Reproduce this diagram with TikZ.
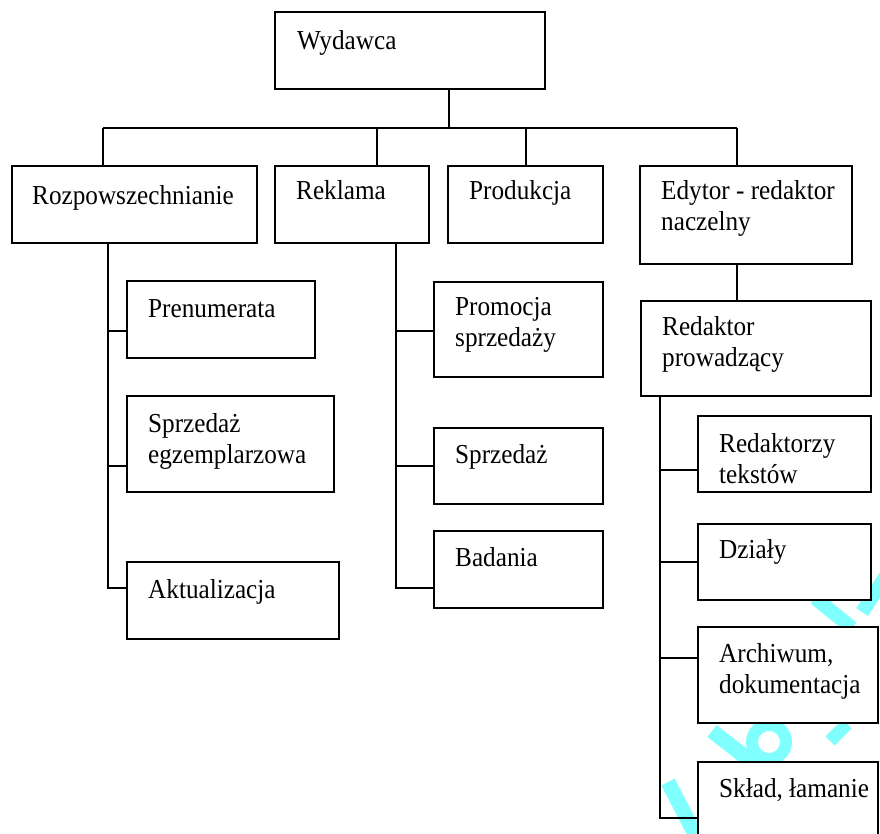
\documentclass[tikz,border=0pt]{standalone}
\usepackage{fontspec}
\setmainfont{Liberation Serif}[FakeStretch=0.92]
\definecolor{wm}{RGB}{128,255,255}
\tikzset{
  bx/.style={draw=black, line width=1.2pt, fill=white, anchor=north west, inner sep=0pt, outer sep=0pt},
  txt/.style={anchor=base west, inner sep=0pt, font=\fontsize{27.4}{31}\selectfont},
  conn/.style={draw=black, line width=1.2pt},
  wmark/.style={draw=wm, line width=14pt, line cap=butt}
}
\newcommand\orgbox[5]{\node[bx, minimum width={(#4-#2)*1pt}, minimum height={(#5-#3)*1pt}] (#1) at (#2,#3) {};}
\newcommand\twolines[2]{\vtop{\hbox{#1}\hbox{#2}}}
\begin{document}
\begin{tikzpicture}[x=1pt,y=-1pt]
\useasboundingbox (0,0) rectangle (880,834);
\clip (0,0) rectangle (880,834);
\fill[white] (0,0) rectangle (880,834);
% watermark
\draw[wmark] (862,612) -- (886,576);
\draw[wmark] (815,598) -- (852,628);
\draw[wmark, line width=15pt] (712,731) -- (757,766);
\draw[draw=wm, line width=12pt] (769,742) circle (17);
\draw[wmark, line width=13pt] (830,741) -- (847,724);
\draw[wmark, line width=15pt] (668,782) -- (695,834);
% boxes
\orgbox{wyd}{275}{12}{545}{89}
\orgbox{roz}{12}{166}{257}{243}
\orgbox{rek}{275}{166}{429}{243}
\orgbox{prod}{448}{166}{603}{243}
\orgbox{edy}{640}{166}{852}{264}
\orgbox{pre}{127}{281}{315}{358}
\orgbox{spre}{127}{396}{334}{492}
\orgbox{akt}{127}{562}{339}{639}
\orgbox{prom}{434}{282}{603}{377}
\orgbox{sprz}{434}{428}{603}{504}
\orgbox{bad}{434}{531}{603}{608}
\orgbox{red}{641}{301}{871}{396}
\orgbox{redz}{698}{416}{871}{492}
\orgbox{dz}{698}{524}{871}{600}
\orgbox{arch}{698}{627}{878}{723}
\orgbox{skl}{698}{762}{878}{852}
% texts
\node[txt] (wyd-t) at (297,50) {Wydawca};
\node[txt] (roz-t) at (32,205) {Rozpowszechnianie};
\node[txt] (rek-t) at (296,200) {Reklama};
\node[txt] (prod-t) at (469,200) {Produkcja};
\node[txt] (edy-t) at (661,200) {\twolines{Edytor - redaktor}{naczelny}};
\node[txt] (pre-t) at (148,317) {Prenumerata};
\node[txt] (spre-t) at (148,432) {\twolines{Sprzedaż}{egzemplarzowa}};
\node[txt] (akt-t) at (148,598) {Aktualizacja};
\node[txt] (prom-t) at (455,315) {\twolines{Promocja}{sprzedaży}};
\node[txt] (sprz-t) at (455,463) {Sprzedaż};
\node[txt] (bad-t) at (455,566) {Badania};
\node[txt] (red-t) at (662,335) {\twolines{Redaktor}{prowadzący}};
\node[txt] (redz-t) at (719,452) {\twolines{Redaktorzy}{tekstów}};
\node[txt] (dz-t) at (719,558) {Działy};
\node[txt] (arch-t) at (719,662) {\twolines{Archiwum,}{dokumentacja}};
\node[txt] (skl-t) at (719,797) {Skład, łamanie};
% top-level bus
\coordinate (j0) at (449,128);
\coordinate (b1) at (103,128);
\coordinate (b2) at (377,128);
\coordinate (b3) at (526,128);
\coordinate (b4) at (737,128);
\draw[conn] (wyd.south -| j0) -- (j0);
\draw[conn] (b1) -- (b4);
\draw[conn] (b1) -- (b1 |- roz.north);
\draw[conn] (b2) -- (b2 |- rek.north);
\draw[conn] (b3) -- (b3 |- prod.north);
\draw[conn] (b4) -- (b4 |- edy.north);
\draw[conn] (edy.south -| b4) -- (b4 |- red.north);
% left trunk
\coordinate (l1) at (108,331);
\coordinate (l2) at (108,466);
\coordinate (l3) at (108,588);
\draw[conn] (roz.south -| l3) -- (l3) -- (l3 -| akt.west);
\draw[conn] (l1) -- (l1 -| pre.west);
\draw[conn] (l2) -- (l2 -| spre.west);
% middle trunk
\coordinate (m1) at (396,331);
\coordinate (m2) at (396,466);
\coordinate (m3) at (396,588);
\draw[conn] (rek.south -| m3) -- (m3) -- (m3 -| bad.west);
\draw[conn] (m1) -- (m1 -| prom.west);
\draw[conn] (m2) -- (m2 -| sprz.west);
% right trunk
\coordinate (r1) at (660,470);
\coordinate (r2) at (660,562);
\coordinate (r3) at (660,658);
\coordinate (r4) at (660,818);
\draw[conn] (red.south -| r4) -- (r4) -- (r4 -| skl.west);
\draw[conn] (r1) -- (r1 -| redz.west);
\draw[conn] (r2) -- (r2 -| dz.west);
\draw[conn] (r3) -- (r3 -| arch.west);
\end{tikzpicture}
\end{document}
